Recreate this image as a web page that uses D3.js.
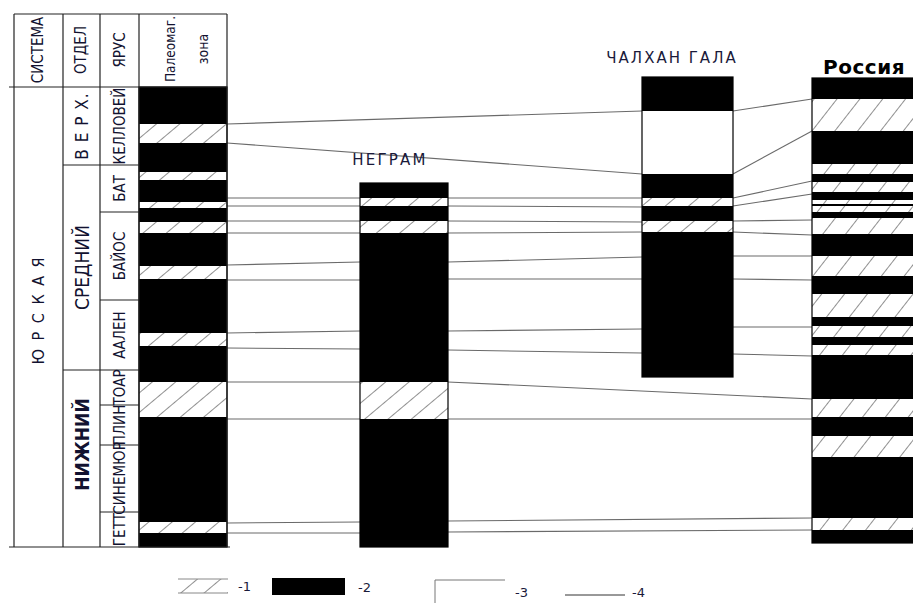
<!DOCTYPE html>
<html>
<head>
<meta charset="utf-8">
<script src="https://cdnjs.cloudflare.com/ajax/libs/d3/7.8.5/d3.min.js"></script>
<style>
  body { margin: 0; background: #fff; }
  svg { display: block; }
  .narrow { font-family: "Liberation Sans Narrow", "DejaVu Sans Condensed", "Liberation Sans", sans-serif; fill: #121230; }
</style>
</head>
<body>
<div id="chart"></div>
<script>
// depth units, 0 = top of the highest column
const stageNames = ['КЕЛЛОВЕЙ', 'БАТ', 'БАЙОС', 'ААЛЕН', 'ТОАР', 'ПЛИН', 'СИНЕМЮР', 'ГЕТТ'];
const stageBounds = [10, 88, 135, 223, 293, 328, 368, 435, 470];
const seriesNames = ['В Е Р Х.', 'СРЕДНИЙ', 'НИЖНИЙ'];
const seriesBounds = [10, 88, 293, 470];

// b = black (normal), h = hatched (reversed), w = white
const paleoLevels = [10, 47, 66, 95, 103, 125, 131, 145, 156, 189, 202, 256, 269, 305, 340, 445, 456, 470];
const paleoTypes = ['b','h','b','h','b','h','b','h','b','h','b','h','b','h','b','h','b'];
const negramLevels = [106, 121, 129, 144, 156, 305, 342, 470];
const negramTypes = ['b','h','b','h','b','h','b'];
const chalkhanLevels = [0, 34, 97, 121, 129, 144, 155, 300];
const chalkhanTypes = ['b','w','b','h','b','h','b'];
const russiaLevels = [1, 22, 54, 87, 97, 105, 115, 123, 127, 129, 135, 141, 157, 179, 199, 217, 240, 249, 260, 268, 278, 322, 340, 359, 380, 441, 453, 466];
const russiaTypes = ['b','h','b','h','b','h','b','h','b','h','b','h','b','h','b','h','b','h','b','h','b','h','b','h','b','h','b'];

// correlation lines [from column, level, to column, level]
const links = [
  ['paleo', 47, 'chalkhan', 34], ['paleo', 66, 'chalkhan', 97],
  ['paleo', 121, 'negram', 121], ['paleo', 129, 'negram', 129], ['paleo', 144, 'negram', 144], ['paleo', 156, 'negram', 156],
  ['paleo', 188, 'negram', 185], ['paleo', 203, 'negram', 203], ['paleo', 256, 'negram', 254], ['paleo', 271, 'negram', 272],
  ['paleo', 305, 'negram', 305], ['paleo', 342, 'negram', 342], ['paleo', 446, 'negram', 445], ['paleo', 456, 'negram', 456],
  ['negram', 121, 'chalkhan', 121], ['negram', 129, 'chalkhan', 130], ['negram', 144, 'chalkhan', 145], ['negram', 156, 'chalkhan', 155],
  ['negram', 185, 'chalkhan', 180], ['negram', 202, 'chalkhan', 202], ['negram', 254, 'chalkhan', 252], ['negram', 273, 'chalkhan', 276],
  ['chalkhan', 34, 'russia', 22], ['chalkhan', 97, 'russia', 54], ['chalkhan', 121, 'russia', 104], ['chalkhan', 129, 'russia', 117],
  ['chalkhan', 144, 'russia', 143], ['chalkhan', 155, 'russia', 158], ['chalkhan', 179, 'russia', 179], ['chalkhan', 202, 'russia', 203],
  ['chalkhan', 250, 'russia', 250], ['chalkhan', 277, 'russia', 279],
  ['negram', 305, 'russia', 322], ['negram', 342, 'russia', 342], ['negram', 444, 'russia', 441], ['negram', 455, 'russia', 453]
];

const legendLabels = ['-1', '-2', '-3', '-4'];

const width = 913, height = 603;
const svg = d3.select('#chart').append('svg')
  .attr('width', width)
  .attr('height', height);

const y = d3.scaleLinear().domain([0, 470]).range([77, 547]);
const colX = { paleo: [139, 227], negram: [360, 448], chalkhan: [642, 733], russia: [812, 930] };

const defs = svg.append('defs');
function hatch(id, size, angle) {
  const p = defs.append('pattern')
    .attr('id', id)
    .attr('patternUnits', 'userSpaceOnUse')
    .attr('width', size).attr('height', size)
    .attr('patternTransform', `rotate(${angle})`);
  p.append('rect').attr('width', size).attr('height', size).attr('fill', '#fff');
  p.append('line').attr('x1', 0).attr('y1', 0).attr('x2', 0).attr('y2', size)
    .attr('stroke', '#333').attr('stroke-width', 1.1);
}
hatch('hatchA', 15, 50);
hatch('hatchB', 18, 38);

const fillOf = (t, pat) => t === 'b' ? '#000' : t === 'w' ? '#fff' : `url(#${pat})`;

// correlation lines (under the columns)
svg.append('g').selectAll('line')
  .data(links)
  .enter().append('line')
  .attr('x1', d => colX[d[0]][1])
  .attr('y1', d => y(d[1]))
  .attr('x2', d => colX[d[2]][0])
  .attr('y2', d => y(d[3]))
  .attr('stroke', '#6a6a6a')
  .attr('stroke-width', 1.1);

function column(key, levels, types, pat) {
  const segs = types.map((t, i) => ({ t, a: levels[i], b: levels[i + 1] }));
  const g = svg.append('g');
  g.selectAll('rect')
    .data(segs)
    .enter().append('rect')
    .attr('x', colX[key][0])
    .attr('width', colX[key][1] - colX[key][0])
    .attr('y', d => y(d.a))
    .attr('height', d => y(d.b) - y(d.a))
    .attr('fill', d => fillOf(d.t, pat));
  g.append('rect')
    .attr('x', colX[key][0]).attr('width', colX[key][1] - colX[key][0])
    .attr('y', y(levels[0])).attr('height', y(levels[levels.length - 1]) - y(levels[0]))
    .attr('fill', 'none').attr('stroke', '#000').attr('stroke-width', 1.2);
}
column('paleo', paleoLevels, paleoTypes, 'hatchA');
column('negram', negramLevels, negramTypes, 'hatchA');
column('chalkhan', chalkhanLevels, chalkhanTypes, 'hatchA');
column('russia', russiaLevels, russiaTypes, 'hatchB');

// stratigraphic table
const tbl = svg.append('g').attr('stroke', '#222').attr('stroke-width', 1.2);
const tableTop = 14;
[14, 63, 100, 139, 227].forEach(x => {
  tbl.append('line').attr('x1', x).attr('x2', x).attr('y1', tableTop).attr('y2', y(470));
});
tbl.append('line').attr('x1', 14).attr('x2', 227).attr('y1', tableTop).attr('y2', tableTop);
tbl.append('line').attr('x1', 9).attr('x2', 227).attr('y1', y(10)).attr('y2', y(10));
tbl.append('line').attr('x1', 9).attr('x2', 230).attr('y1', y(470)).attr('y2', y(470));
tbl.selectAll('.st').data(stageBounds.slice(1, -1)).enter().append('line')
  .attr('x1', d => seriesBounds.includes(d) ? 63 : 100).attr('x2', 139)
  .attr('y1', d => y(d)).attr('y2', d => y(d));

function vtext(x, yy, txt, size, opts = {}) {
  svg.append('text')
    .attr('class', 'narrow')
    .attr('transform', `translate(${x},${yy}) rotate(-90)`)
    .attr('text-anchor', 'middle')
    .attr('dominant-baseline', 'central')
    .attr('font-size', size)
    .attr('font-weight', opts.bold ? 'bold' : 'normal')
    .attr('letter-spacing', opts.ls || 0)
    .text(txt);
}
vtext(38, 50, 'СИСТЕМА', 15);
vtext(81, 50, 'ОТДЕЛ', 15);
vtext(120, 50, 'ЯРУС', 15);
vtext(170, 49, 'Палеомаг.', 13.5);
vtext(203, 49, 'зона', 14);
vtext(38, 310, 'Ю Р С К А Я', 16, { ls: 2 });

seriesNames.forEach((s, i) => {
  const mid = (seriesBounds[i] + seriesBounds[i + 1]) / 2;
  vtext(82, y(mid) - (i === 2 ? 14 : 0), s, i === 0 ? 17 : 19, { bold: i === 2, ls: i === 0 ? 1 : 0 });
});
stageNames.forEach((s, i) => {
  const mid = (stageBounds[i] + stageBounds[i + 1]) / 2;
  vtext(120, y(mid), s, 15);
});

// column titles
const title = (x, yy, t, size, bold, ls) => svg.append('text')
  .attr('x', x).attr('y', yy).attr('text-anchor', 'middle')
  .attr('font-family', '"DejaVu Sans", "Open Sans", sans-serif')
  .attr('font-size', size).attr('font-weight', bold ? 'bold' : 'normal')
  .attr('letter-spacing', ls)
  .attr('fill', bold ? '#000' : '#1a1a3a')
  .text(t);
title(390, 165, 'НЕГРАМ', 15, false, 2.2);
title(672, 63, 'ЧАЛХАН ГАЛА', 15, false, 2);
title(864, 74, 'Россия', 20, true, 0.5);

// legend
const lg = svg.append('g');
lg.append('rect').attr('x', 178).attr('y', 579).attr('width', 50).attr('height', 14)
  .attr('fill', 'url(#hatchA)');
lg.append('line').attr('x1', 178).attr('x2', 228).attr('y1', 579).attr('y2', 579).attr('stroke', '#888');
lg.append('line').attr('x1', 178).attr('x2', 228).attr('y1', 593).attr('y2', 593).attr('stroke', '#888');
lg.append('rect').attr('x', 272).attr('y', 578).attr('width', 73).attr('height', 17).attr('fill', '#000');
lg.append('line').attr('x1', 435).attr('x2', 505).attr('y1', 580).attr('y2', 580).attr('stroke', '#777');
lg.append('line').attr('x1', 435).attr('x2', 435).attr('y1', 580).attr('y2', 603).attr('stroke', '#777');
lg.append('line').attr('x1', 565).attr('x2', 625).attr('y1', 595).attr('y2', 595).attr('stroke', '#333');
const lx = [238, 358, 515, 632];
const ly = [591, 592, 597, 597];
lg.selectAll('text').data(legendLabels).enter().append('text')
  .attr('x', (d, i) => lx[i]).attr('y', (d, i) => ly[i])
  .attr('font-family', '"DejaVu Sans", sans-serif').attr('font-size', 13).attr('fill', '#1a1a3a')
  .text(d => d);
</script>
</body>
</html>
